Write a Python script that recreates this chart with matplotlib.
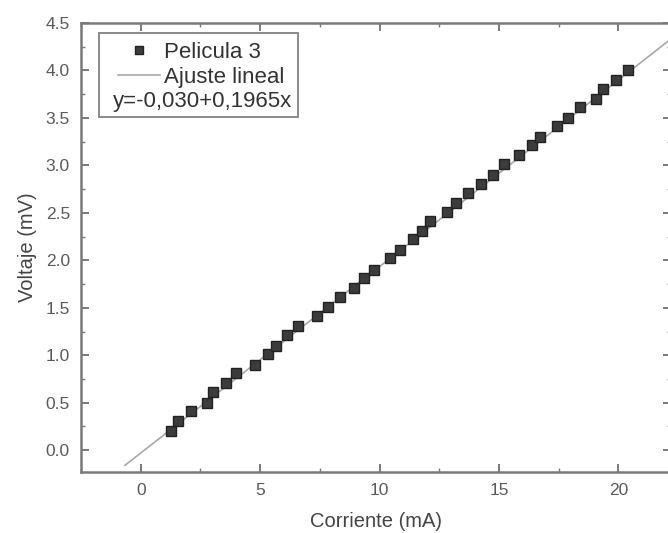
import matplotlib.pyplot as plt
import numpy as np
from matplotlib.lines import Line2D
from matplotlib.patches import Rectangle

plt.rcParams['font.family'] = ['Liberation Sans', 'DejaVu Sans']

# Pelicula 3: corriente (mA) vs voltaje (mV)
corriente = [1.26, 1.57, 2.09, 2.76, 3.04, 3.56, 3.99, 4.78, 5.34, 5.65,
             6.13, 6.57, 7.36, 7.85, 8.34, 8.94, 9.34, 9.76, 10.42, 10.85,
             11.41, 11.76, 12.13, 12.83, 13.22, 13.71, 14.23, 14.75, 15.20, 15.83,
             16.38, 16.71, 17.41, 17.89, 18.38, 19.08, 19.36, 19.89, 20.40]
voltaje = [0.20, 0.31, 0.41, 0.50, 0.61, 0.71, 0.81, 0.90, 1.01, 1.10,
           1.21, 1.31, 1.41, 1.51, 1.61, 1.71, 1.81, 1.90, 2.02, 2.11,
           2.22, 2.31, 2.41, 2.51, 2.60, 2.71, 2.80, 2.90, 3.01, 3.11,
           3.21, 3.30, 3.41, 3.50, 3.61, 3.70, 3.80, 3.90, 4.01]

# linear fit shown in the legend
intercept = -0.030
slope = 0.1965
fit_range = [-0.66, 23.0]

fig = plt.figure(figsize=(6.68, 5.33), dpi=100)
ax = fig.add_axes([81 / 668, 61 / 533, 590 / 668, 449 / 533])

xf = np.array(fit_range)
ax.plot(xf, intercept + slope * xf, color="#a8a8a8", lw=1.2, zorder=2)
ax.plot(corriente, voltaje, "s", ms=7, mfc="#3c3c3c", mec="#222222",
        mew=1.0, zorder=3)

ax.set_xlim(-2.5, 22.2)
ax.set_ylim(-0.23, 4.5)
ax.set_xticks([0, 5, 10, 15, 20])
ax.set_xticks(np.arange(-2.5, 22.5, 2.5), minor=True)
ax.set_yticks(np.arange(0, 4.51, 0.5))
ax.set_yticks(np.arange(0, 4.5, 0.25), minor=True)
ax.yaxis.set_major_formatter(plt.FormatStrFormatter("%.1f"))

for s in ax.spines.values():
    s.set_color("#7a7a7a")
    s.set_linewidth(1.8)
ax.tick_params(which="both", direction="in", top=True, right=True,
               color="#7a7a7a", labelcolor="#5a5a5a", labelsize=12.5)
ax.tick_params(which="major", length=6, width=1.4)
ax.tick_params(which="minor", length=3, width=1.0)
ax.tick_params(axis="x", pad=8)
ax.tick_params(axis="y", pad=8)

ax.set_xlabel("Corriente (mA)", fontsize=14.5, color="#444444", labelpad=10)
ax.set_ylabel("Voltaje (mV)", fontsize=14.5, color="#444444", labelpad=6)

# legend box
ax.add_patch(Rectangle((0.0305, 0.7906), 0.3373, 0.1871, transform=ax.transAxes,
                       fill=True, fc="white", ec="#8a8a8a", lw=1.4, zorder=4))
handles = [Line2D([], [], ls="none", marker="s", ms=6, mfc="#3c3c3c", mec="#222222"),
           Line2D([], [], color="#a8a8a8", lw=1.2)]
leg = ax.legend(handles, ["Pelicula 3", "Ajuste lineal"], loc="upper left",
                bbox_to_anchor=(0.0627, 0.958), frameon=False, fontsize=16,
                handlelength=1.9, handletextpad=0.15, labelspacing=0.18,
                borderpad=0, borderaxespad=0, labelcolor="#333333")
leg.set_zorder(5)
ax.text(0.054, 0.825, "y=-0,030+0,1965x", transform=ax.transAxes, fontsize=16,
        color="#333333", va="center", ha="left", zorder=6)

fig.savefig("out.png", dpi=100)
